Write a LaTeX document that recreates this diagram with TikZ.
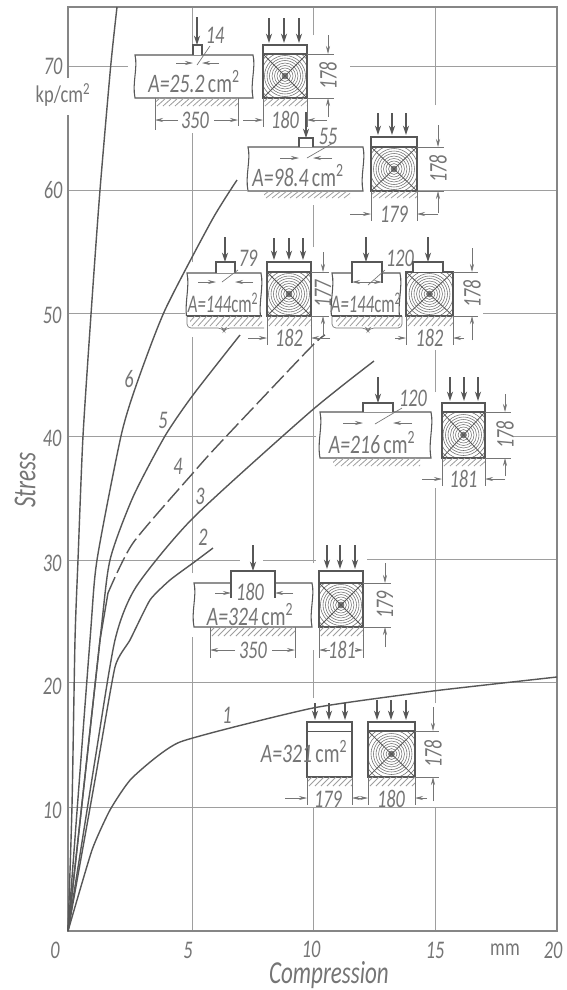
\documentclass[tikz,border=0pt]{standalone}
\usepackage{fontspec}
\setmainfont{Carlito}
\usetikzlibrary{arrows.meta}
\definecolor{ink}{gray}{0.34}
\definecolor{soft}{gray}{0.46}
\definecolor{gridc}{gray}{0.62}
\tikzset{
  framel/.style={draw=gridc!85!black,line width=1.1pt},
  gridl/.style={draw=gridc,line width=0.55pt},
  curvel/.style={draw=ink,line width=1.05pt,line join=round},
  part/.style={draw=ink,line width=0.8pt,fill=white},
  thin part/.style={draw=soft,line width=0.5pt},
  arrl/.style={draw=ink,line width=0.8pt,-{Stealth[length=7pt,width=4.6pt]}},
  smallarr/.style={draw=soft,line width=0.5pt,-{Stealth[length=6pt,width=3pt]}},
  hatchl/.style={draw=gridc,line width=0.6pt},
  ringl/.style={draw=ink!85,line width=0.42pt},
  lbl/.style={text=soft,font=\fontsize{19}{19}\selectfont\itshape,inner sep=0pt,xscale=0.72},
  uplbl/.style={text=soft,font=\fontsize{18}{18}\selectfont,inner sep=0pt,xscale=0.77},
  biglbl/.style={text=soft,font=\fontsize{24}{24}\selectfont\itshape,inner sep=0pt,xscale=0.72},
  arealbl/.style={text=soft,font=\fontsize{20}{20}\selectfont,inner sep=0pt,xscale=0.74},
  narrowarea/.style={text=soft,font=\fontsize{19}{19}\selectfont,inner sep=0pt,xscale=0.66},
}
\newcount\lblc
\newcommand{\lbl}[4][]{\global\advance\lblc by 1 \node[#1,lbl] (L\the\lblc) at ({#2},{#3}) {#4};}
\newcommand{\area}[4][arealbl]{\global\advance\lblc by 1 \node[#1] (L\the\lblc) at (#2,#3) {#4};}
\newcommand{\Aval}[1]{\textit{A=#1}\,cm$^{\mathrm{2}}$}
\newcommand{\Bval}[1]{\textit{A=#1}cm$^{\mathrm{2}}$}
% wavy-sided block
\newcommand{\wblock}[4]{%
  \pgfmathsetmacro{\ya}{#2+0.3*(#4-#2)}\pgfmathsetmacro{\yb}{#2+0.65*(#4-#2)}%
  \pgfmathsetmacro{\xp}{#3+3}\pgfmathsetmacro{\xq}{#3-3}\pgfmathsetmacro{\xr}{#1-3}\pgfmathsetmacro{\xs}{#1+3}%
  \draw[part] (#1,#2) -- (#3,#2) .. controls (\xp,\ya) and (\xq,\yb) .. (#3,#4) -- (#1,#4) .. controls (\xr,\yb) and (\xs,\ya) .. cycle;}
% hatched foundation
\newcommand{\hatch}[4]{%
  \begin{scope}
  \clip (#1,#2) rectangle (#3,#4);
  \foreach \kk in {-10,-4,...,140}{\draw[hatchl] ({#1+\kk},#4) -- ({#1+\kk+9},#2);}
  \end{scope}}
% wood section
\newcommand{\wood}[4]{%
  \pgfmathsetmacro{\cx}{(#1+#3)/2}\pgfmathsetmacro{\cy}{(#2+#4)/2}%
  \begin{scope}
  \clip (#1,#2) rectangle (#3,#4);
  \foreach \rr in {3,5.5,...,21}{\draw[ringl] (\cx,\cy) circle[radius=\rr];}
  \foreach \rr in {24,27.5,31}{\draw[ringl] (\cx,\cy) circle[radius=\rr];}
  \fill[ink!80] (\cx,\cy) circle[radius=3];
  \draw[ink,line width=0.6pt] (#1,#2) -- (#3,#4) (#1,#4) -- (#3,#2);
  \end{scope}
  \draw[part,fill=none] (#1,#2) rectangle (#3,#4);}
\newcommand{\loadsthree}[5]{%
  \draw[arrl] (#1,#4) -- (#1,#5); \draw[arrl] (#2,#4) -- (#2,#5); \draw[arrl] (#3,#4) -- (#3,#5);}
% horizontal dimension with outer arrows
\newcommand{\hdim}[6]{% x1 x2 y ybase len text
  \draw[thin part] (#1,#4) -- (#1,{#3+7}) (#2,#4) -- (#2,{#3+7});
  \draw[smallarr] ({#1-#5},#3) -- (#1,#3);
  \draw[smallarr] ({#2+#5},#3) -- (#2,#3);
  \lbl{(#1+#2)/2}{#3}{#6}}
% vertical dimension
\newcommand{\vdimn}[6]{% x xbase y1 y2 len text
  \draw[thin part] (#2,#3) -- ({#1+6},#3) (#2,#4) -- ({#1+6},#4);
  \draw[smallarr] (#1,{#3-#5}) -- (#1,#3);
  \draw[smallarr] (#1,{#4+#5}) -- (#1,#4);
  \lbl[rotate=90]{#1}{(#3+#4)/2}{#6}}
% section: x1 x2 ytop yplate ybot hatchbot
\newcommand{\crosssec}[6]{%
  \fill[white] (#1,#3) rectangle (#2,#6);
  \wood{#1}{#4}{#2}{#5}
  \draw[part,fill=none] (#1,#3) rectangle (#2,#4);
  \hatch{#1}{#5}{#2}{#6}
  \draw[thin part] (#1,#5) -- (#1,#6) (#2,#5) -- (#2,#6);}
\begin{document}
\begin{tikzpicture}[x=0.75pt,y=-0.75pt]
\useasboundingbox (0,0) rectangle (567,990);
\fill[white] (0,0) rectangle (567,990);
% grid
\draw[gridl] (192,931) -- (192,637) (192,573) -- (192,337) (192,262) -- (192,133) (192,45) -- (192,7);
\draw[gridl] (313,931) -- (313,807) (313,698) -- (313,650) (313,563) -- (313,343) (313,247) -- (313,205) (313,35) -- (313,7);
\draw[gridl] (435,931) -- (435,807) (435,703) -- (435,488) (435,392) -- (435,350) (435,105) -- (435,7);
\draw[gridl] (68,66) -- (128,66) (350,66) -- (557,66);
\draw[gridl] (68,190) -- (247,190) (418,190) -- (557,190);
\draw[gridl] (68,313) -- (185,313) (483,313) -- (557,313);
\draw[gridl] (68,436) -- (316,436) (512,436) -- (557,436);
\draw[gridl] (68,560) -- (240,560) (263,560) -- (316,560) (367,559) -- (557,559);
\draw[gridl] (68,682) -- (557,682);
\draw[gridl] (68,807) -- (557,807);
% frame
\draw[framel] (68,78) -- (68,7) -- (557,7) -- (557,931) -- (68,931) -- (68,115);
% curves
\draw[curvel] plot[smooth,tension=0.4] coordinates {(68,931) (72,806) (75,640) (78,560) (83,436) (92,300) (100,190) (110.7,66) (117,7)};
\draw[curvel] plot[smooth,tension=0.4] coordinates {(68,931) (90,640) (97,560) (121,436) (137,383) (165,310) (212,220) (237,180)};
\draw[curvel] plot[smooth,tension=0.4] coordinates {(68,931) (100,640) (110,560) (133,497) (165,436) (193,395) (240,335)};
\draw[curvel] (68,931) -- (100,640) -- (108,593);
\draw[curvel,dash pattern=on 13pt off 3.5pt] plot[smooth,tension=0.4] coordinates {(108,593) (133,543) (193,473) (220,443) (310,348) (325,335)};
\draw[curvel] plot[smooth,tension=0.4] coordinates {(68,931) (95,760) (115,640) (136,587) (193,518) (310,412) (374,361)};
\draw[curvel] plot[smooth,tension=0.3] coordinates {(68,931) (95,780) (115,667) (130,640) (150,600) (170,580) (193,563) (213,548)};
\draw[curvel] plot[smooth,tension=0.3] coordinates {(68,931) (92,850) (110,810) (132,778) (180,742) (313,708) (433,691) (557,677)};
% curve numbers
\lbl{227}{715}{1}\lbl{203}{537}{2}\lbl{200}{496}{3}\lbl{178}{466}{4}\lbl{163}{420}{5}\lbl{129}{379}{6}
% axis labels
\lbl{53}{66}{70}\lbl{53}{190}{60}\lbl{52}{315}{50}\lbl{52}{438}{40}\lbl{52}{563}{30}\lbl{52}{686}{20}\lbl{52}{810}{10}
\lbl{55}{950}{0}\lbl{188}{950}{5}\lbl{311}{949}{10}\lbl{435}{950}{15}\lbl{553}{950}{20}
\global\advance\lblc by 1 \node[uplbl] (L\the\lblc) at (505,950) {mm};
\global\advance\lblc by 1 \node[uplbl] (L\the\lblc) at (63,95) {kp/cm$^{\mathrm{2}}$};
\global\advance\lblc by 1 \node[rotate=90,biglbl] (L\the\lblc) at (25,480) {Stress};
\global\advance\lblc by 1 \node[biglbl] (L\the\lblc) at (329,975) {Compression};
% specimen A = 25.2
\wblock{135}{55}{253}{98}
\draw[part] (193,55) -- (193,45) -- (202,45) -- (202,55);
\draw[arrl] (197,17) -- (197,45);
\draw[smallarr] (176,63) -- (193,63); \draw[smallarr] (219,63) -- (202,63);
\draw[thin part] (210,46) -- (197,65);
\lbl{215}{35}{14}
\area{194}{82}{\Aval{25.2}}
\hatch{155}{98}{238}{106}
\draw[thin part] (155,98) -- (155,130) (238,98) -- (238,126);
\draw[smallarr] (178,120) -- (155,120); \draw[smallarr] (214,120) -- (238,120);
\lbl{195}{120}{350}
\crosssec{263}{307}{45}{54}{98}{106}
\loadsthree{269}{284}{299}{18}{43}
\hdim{263}{307}{120}{106}{20}{180}
\vdimn{328}{307}{54}{98}{19}{178}
% specimen A = 98.4
\wblock{248}{147}{363}{191}
\draw[part] (299,147) -- (299,138) -- (313,138) -- (313,147);
\draw[arrl] (306,112) -- (306,138);
\draw[smallarr] (280,158) -- (299,158); \draw[smallarr] (332,158) -- (313,158);
\draw[thin part] (333,143) -- (307,158);
\lbl{328}{136}{55}
\area{298}{176}{\Aval{98.4}}
\hatch{264}{191}{350}{198}
\crosssec{371}{417}{137}{147}{191}{198}
\loadsthree{378}{392}{406}{113}{135}
\hdim{371}{417}{214}{198}{21}{179}
\vdimn{438}{417}{147}{191}{22}{178}
% specimen A = 144 left
\wblock{187}{273}{261}{320}
\fill[white] (185,316) rectangle (264,329);
\draw[thin part,rounded corners=3pt] (187,316) -- (187,328) -- (222,328) -- (224,331) -- (226,328) -- (264,328);
\draw[part,fill=none] (187,316) -- (262,316);
\draw[part] (216,273) -- (216,262) -- (235,262) -- (235,273);
\draw[arrl] (225,237) -- (225,262);
\draw[smallarr] (198,282) -- (216,282); \draw[smallarr] (253,282) -- (235,282);
\draw[thin part] (238,270) -- (222,282);
\lbl{248}{258}{79}
\area[narrowarea]{223}{303}{\Bval{144}}
\hatch{190}{316}{262}{326}
\crosssec{267}{311}{262}{272}{316}{326}
\loadsthree{274}{289}{303}{238}{260}
\hdim{267}{311}{338}{326}{19}{182}
\vdimn{323}{311}{272}{316}{20}{177}
% specimen A = 144 right
\wblock{332}{273}{400}{320}
\fill[white] (330,316) rectangle (403,329);
\draw[thin part,rounded corners=3pt] (332,316) -- (332,328) -- (366,328) -- (368,331) -- (370,328) -- (402,328) -- (402,316);
\draw[part,fill=none] (332,316) -- (402,316);
\draw[part] (352,283) -- (352,262) -- (382,262) -- (382,283);
\draw[arrl] (366,237) -- (366,262);
\draw[smallarr] (368,282) -- (352,282); \draw[smallarr] (368,282) -- (382,282);
\draw[thin part] (385,270) -- (368,285);
\lbl{400}{258}{120}
\area[narrowarea]{366}{303}{\Bval{144}}
\hatch{336}{316}{400}{326}
\crosssec{406}{453}{272}{272}{316}{326}
\draw[part] (413,272) -- (413,262) -- (443,262) -- (443,272);
\draw[arrl] (428,237) -- (428,262);
\hdim{406}{453}{338}{326}{11}{182}
\vdimn{472}{453}{272}{316}{24}{178}
% specimen A = 216
\wblock{320}{412}{431}{458}
\draw[part] (363,412) -- (363,403) -- (393,403) -- (393,412);
\draw[arrl] (378,377) -- (378,403);
\draw[smallarr] (343,423) -- (363,423); \draw[smallarr] (412,423) -- (393,423);
\draw[thin part] (402,408) -- (375,424);
\lbl{413}{398}{120}
\area{372}{443}{\Aval{216}}
\hatch{333}{458}{420}{466}
\crosssec{442}{485}{403}{412}{458}{466}
\loadsthree{450}{464}{478}{377}{401}
\hdim{442}{485}{479}{466}{20}{181}
\vdimn{505}{485}{412}{458}{18}{178}
% specimen A = 324
\wblock{194}{583}{312}{627}
\draw[part] (231,598) -- (231,571) -- (275,571) -- (275,598);
\draw[arrl] (253,545) -- (253,571);
\draw[smallarr] (215,593) -- (231,593); \draw[smallarr] (293,593) -- (275,593);
\lbl{250}{592}{180}
\area{250}{615}{\Aval{324}}
\hatch{210}{627}{295}{636}
\draw[thin part] (210,627) -- (210,658) (295,627) -- (295,658);
\draw[smallarr] (235,650) -- (210,650); \draw[smallarr] (272,650) -- (295,650);
\lbl{253}{650}{350}
\crosssec{319}{363}{571}{583}{627}{636}
\loadsthree{327}{340}{355}{545}{569}
\draw[thin part] (319,636) -- (319,658) (363,636) -- (363,658);
\draw[smallarr] (330,650) -- (319,650); \draw[smallarr] (355,650) -- (363,650);
\lbl{342}{650}{181}
\vdimn{385}{363}{583}{627}{20}{179}
% specimen A = 321
\draw[part] (307,732) -- (307,722) -- (352,722) -- (352,732) -- cycle;
\draw[part] (307,732) -- (307,777) -- (352,777) -- (352,732);
\hatch{307}{777}{352}{786}
\draw[thin part] (307,777) -- (307,805) (352,777) -- (352,805);
\loadsthree{315}{329}{345}{703}{720}
\draw[smallarr] (285,798) -- (307,798); \draw[smallarr] (360,798) -- (352,798);
\lbl{328}{799}{179}
\area{304}{752}{\Aval{321}}
\crosssec{368}{415}{722}{731}{777}{786}
\loadsthree{377}{391}{406}{700}{720}
\draw[thin part] (368,786) -- (368,805) (415,786) -- (415,805);
\draw[smallarr] (360,798) -- (368,798); \draw[smallarr] (427,798) -- (415,798);
\lbl{391}{799}{180}
\vdimn{433}{415}{731}{777}{24}{178}
\end{tikzpicture}
\end{document}
